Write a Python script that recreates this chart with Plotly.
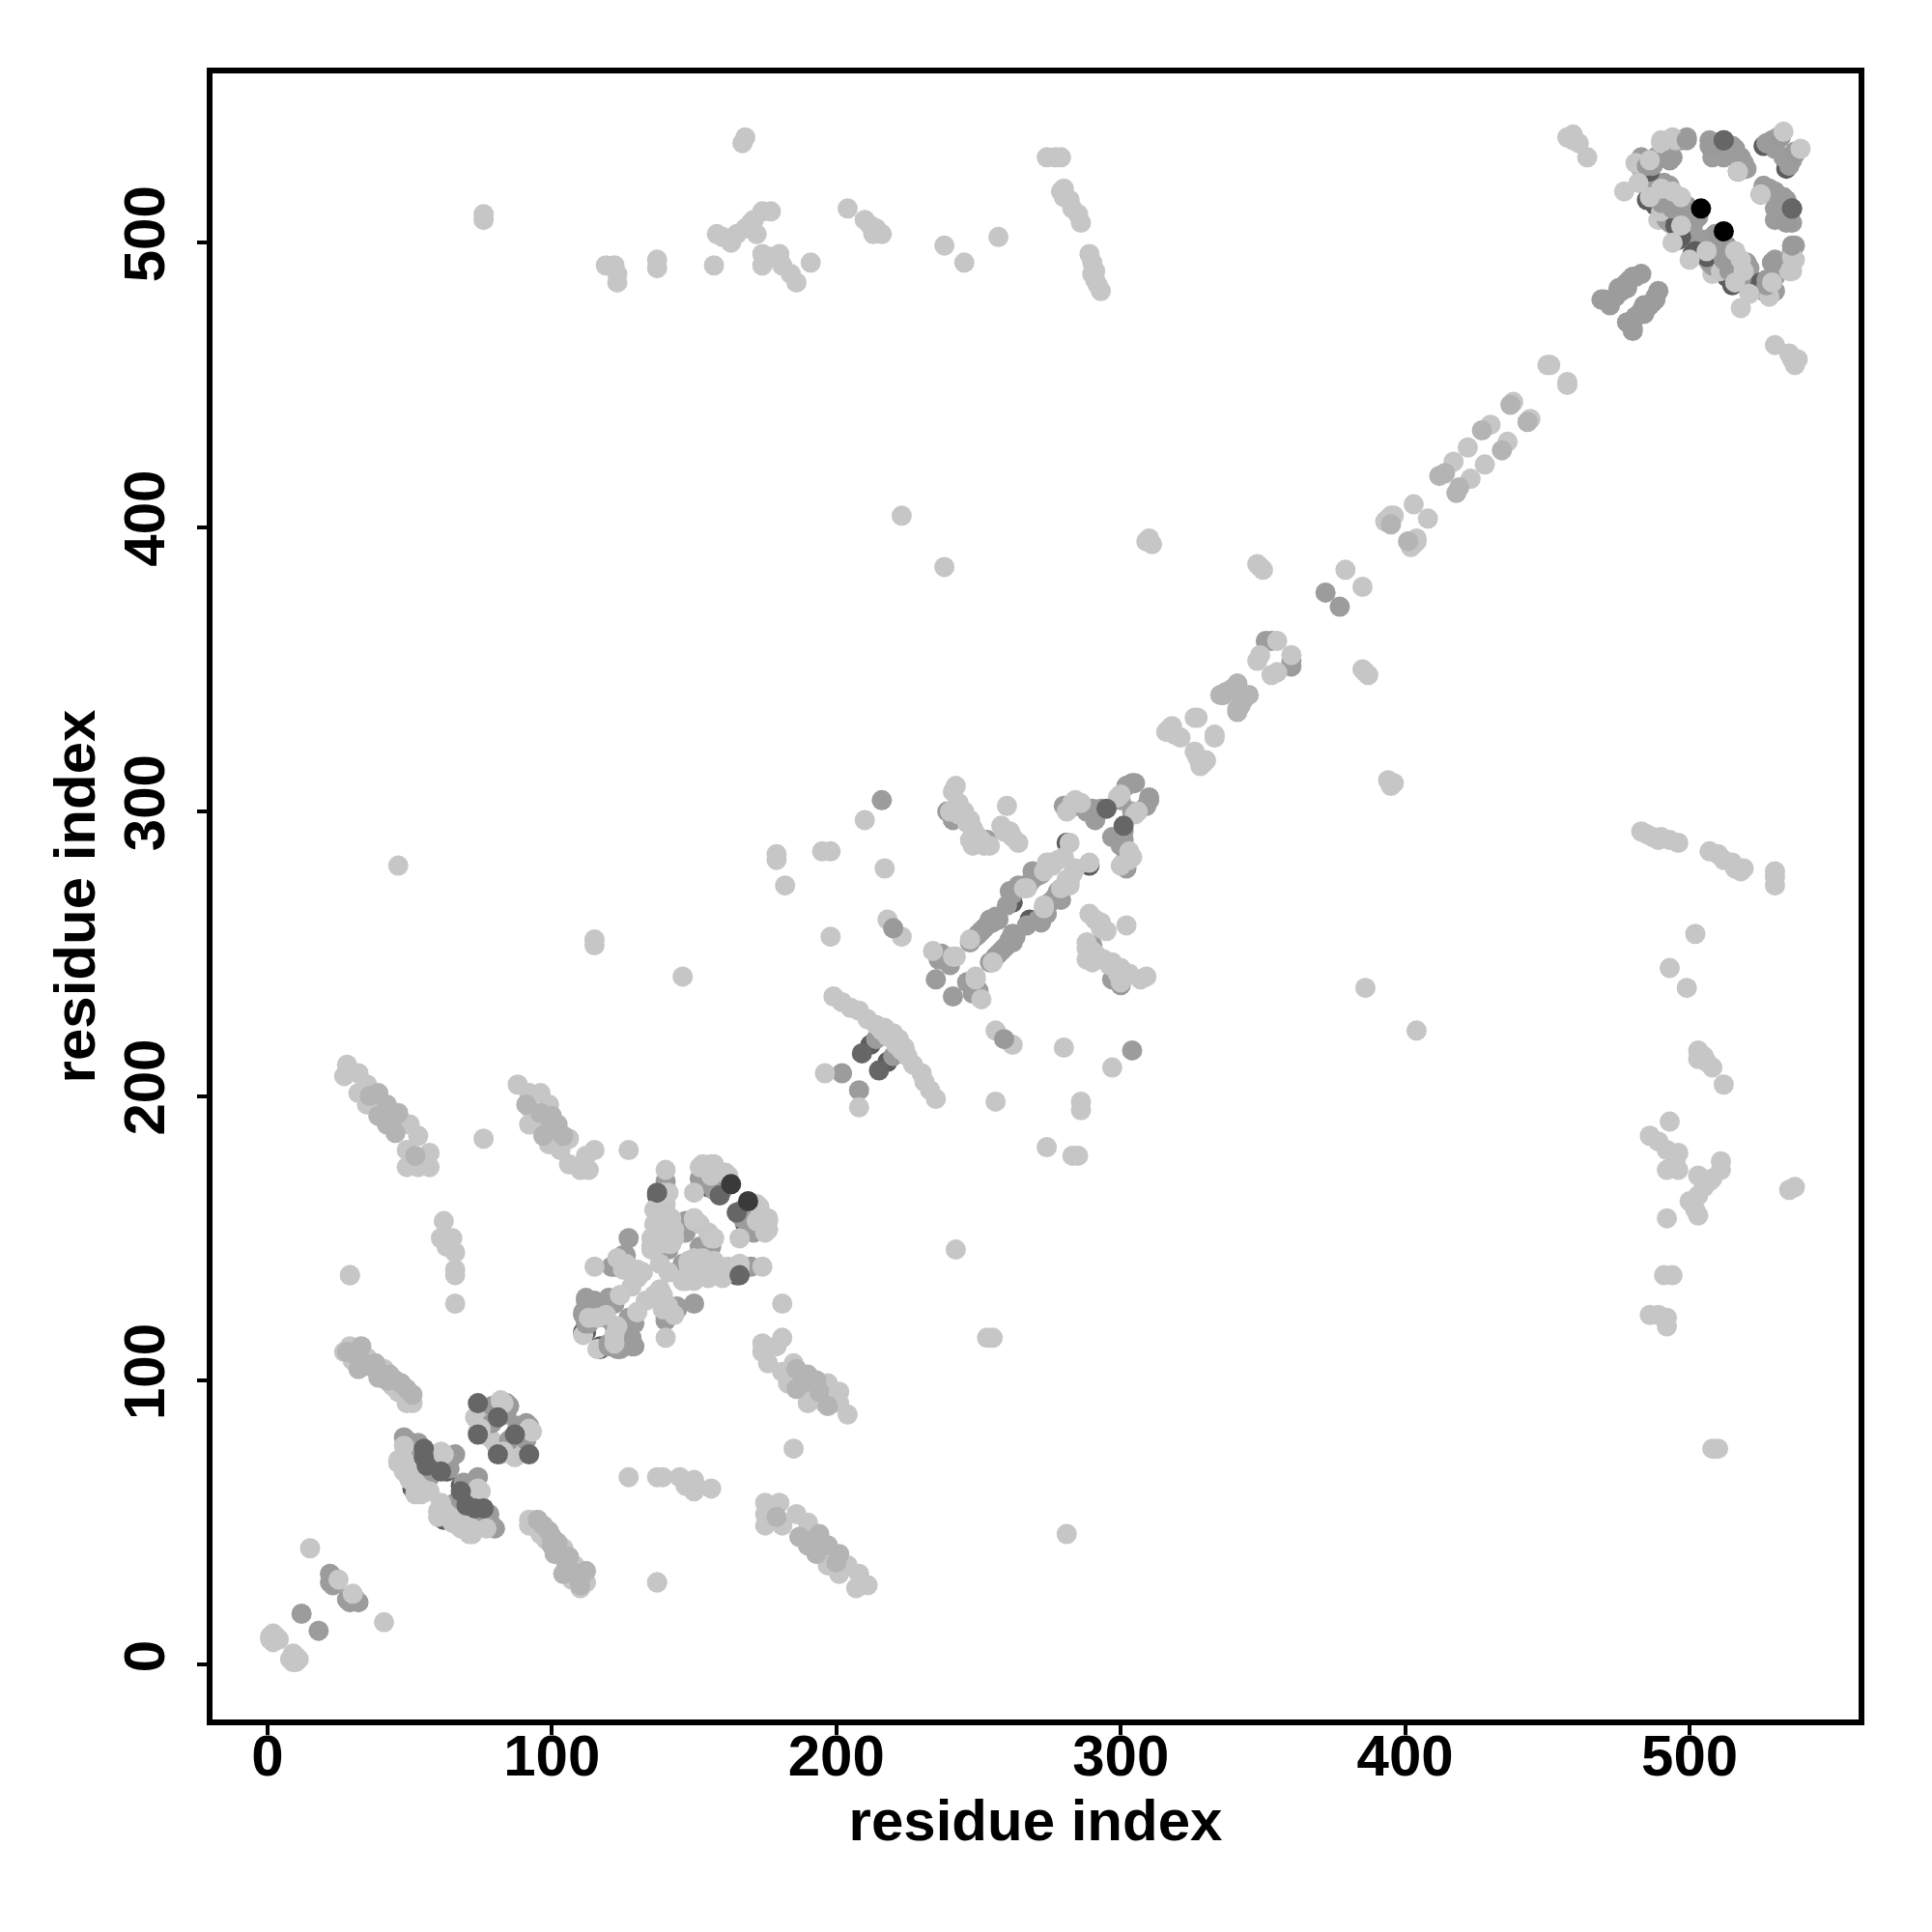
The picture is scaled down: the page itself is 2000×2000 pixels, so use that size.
import plotly.graph_objects as go

tick_values = [0, 100, 200, 300, 400, 500]
axis_label = "residue index"

# contacts (i, j), i < j; the map is symmetric. Grouped by grey level and stacking layer.
darkest_under = [
    (53,62),(52,72),(51,62),(52,61),(53,72),(76,87),(111,117),(112,117),(155,168),(137,165),
    (57,67),(63,68),(212,218),(262,268),(281,289),(526,534),(528,535),(517,525),(488,513),
]
light_under = [
    (491,515),(494,513),(489,508),(491,510),(495,505),(490,518),(487,515),(492,516),(111,116),(112,125),
]
gray = [
    (22,32),(23,31),(22,29),(23,28),(24,29),(12,18),
    (48,80),(51,77),(53,75),(57,66),(49,79),(53,78),(59,70),
    (78,88),(81,90),(78,90),(82,89),
    (127,150),(121,140),(125,144),(123,141),(112,129),(120,129),(118,124),(112,120),(115,128),(113,120),
    (112,128),(120,128),(126,144),(122,140),(111,124),(119,122),(117,124),(122,127),(111,123),
    (140,170),(147,156),(147,153),(138,144),(141,146),(152,171),(157,168),(160,167),(147,152),(153,171),(157,170),(167,157),
    (202,208),(214,220),(237,250),(240,246),(235,241),(236,248),
    (247,254),(249,256),(251,258),(253,260),(255,261),(257,262),(250,257),(252,259),(254,262),(256,263),
    (260,267),(264,274),(262,271),(268,275),(270,277),(272,278),(261,272),(269,279),
    (290,301),(291,297),(302,309),(305,310),(304,310),(280,302),(282,301),(288,300),(293,301),
    (253,290),(239,300),(241,297),(300,304),(216,304),
    (351,360),(353,360),(372,377),
    (470,480),(472,478),(476,483),(477,485),(478,486),(480,488),(483,489),(479,487),(478,484),
    (481,488),(469,480),(472,479),(474,481),(475,484),
    (499,537),(497,536),(507,536),(515,534),(518,530),(520,526),(519,528),(516,533),(493,529),
    (488,530),(483,530),(485,522),(493,519),(493,507),(502,508),(494,514),(496,511),
    (501,505),(497,507),(485,520),(486,524),(500,503),(527,535),(529,536),(531,537),
    (530,533),(491,521),(508,530),(512,530),
    (493,520),(486,520),(483,526),(494,530),(492,508),(498,504),(497,510),(495,514),(501,506),
]
dark_mid = [(486,526),(485,515),(489,513),(493,517),(493,511),(495,506),(496,501),(486,525),(497,502)]
light = [
    (1,9),(1,10),(2,8),(3,10),(4,9),(2,11),(15,41),
    (46,72),(48,77),(48,72),(49,67),(51,69),(52,64),(55,62),(53,67),(46,71),(52,60),(57,61),(54,60),(50,65),(48,68),
    (73,87),(76,82),(78,80),(75,88),(74,82),
    (29,112),(30,107),(32,108),(35,108),(38,104),(41,104),(44,98),(46,96),(48,95),(50,93),(51,92),(49,92),(27,110),(33,106),
    (28,211),(27,207),(32,208),(35,204),(32,201),(35,197),(50,190),(53,186),(49,181),(57,180),(49,175),(53,175),(57,175),(55,176),
    (88,204),(92,201),(96,201),(99,197),(92,196),(92,190),(96,190),(106,185),(99,183),(103,181),(115,181),(106,176),(110,174),(113,174),(112,179),
    (124,130),(116,122),(119,123),(113,122),(115,140),(127,140),(130,139),(130,137),(132,138),(131,138),(130,136),(123,143),(125,139),(126,141),(128,133),
    (140,174),(137,159),(140,159),(142,157),(136,155),(139,155),(141,152),(137,151),(138,148),(143,150),(141,148),
    (135,150),(143,153),(137,157),(140,162),(135,146),(138,141),(147,135),(150,137),(153,138),(156,137),(158,140),(160,136),(148,142),(152,141),
    (150,157),(150,166),(153,176),(157,176),(161,173),(156,172),(162,172),(156,176),(152,175),(150,156),(155,152),
    (29,137),(46,281),(76,510),(76,508),(76,185),(66,127),(66,137),(66,139),(66,145),(65,150),(61,150),(63,147),(62,156),
    (115,255),(115,253),(146,242),(127,181),(137,29),(168,537),(167,535),
    (274,530),(277,530),(279,530),(279,518),(280,516),(282,515),(283,512),(285,510),(286,507),(280,519),
    (289,496),(290,493),(291,490),(291,487),(292,485),(293,483),(290,489),
    (257,502),(238,499),(245,493),(204,512),(210,508),(212,506),(214,505),(213,503),(216,503),
    (157,492),(158,503),(160,502),(163,500),(165,503),(168,505),(170,507),(172,503),(174,511),(177,511),(171,508),
    (174,496),(174,492),(177,495),(180,496),(181,492),(184,489),(186,486),(191,493),
    (119,492),(122,492),(123,489),(123,486),(137,494),(137,491),
    (223,404),(238,386),(310,396),(311,394),(309,395),(179,285),(179,283),(182,274),(195,286),(198,286),
    (210,297),(217,280),(198,256),(218,262),(223,256),(196,208),
    (199,235),(202,233),(205,231),(208,230),(211,227),(214,225),(217,224),(218,221),(216,223),(220,222),
    (234,251),(241,249),(247,255),(242,249),
    (266,273),(274,282),(276,281),(278,283),(273,279),(280,284),(267,273),(275,282),(282,289),
    (284,304),(281,300),(283,303),(286,303),(299,305),(300,306),
    (242,309),(241,307),(240,300),(243,299),(245,300),(247,297),(248,294),(250,291),(252,288),(254,288),
    (246,296),(249,292),(251,290),(260,302),(258,295),(261,293),(262,291),(264,289),(259,293),(242,301),(243,303),(248,288),(247,290),
    (317,329),(316,328),(318,330),(319,327),(321,326),(327,333),(326,333),(318,329),
    (349,386),(350,385),(348,387),(348,353),(355,360),(349,355),(379,385),
    (394,403),(396,404),(393,402),(403,408),(395,404),(417,423),(422,428),(430,436),(438,444),(450,457),(451,457),
    (459,536),(457,537),(461,535),(464,530),(458,537),(459,538),
    (490,536),(494,537),(495,536),(490,535),(481,528),(490,511),
]
mid = [
    (28,110),(31,109),(33,112),(34,106),(36,105),(38,106),(40,102),(42,100),(43,102),(45,100),
    (47,99),(49,97),(51,95),(32,104),(39,101),
    (39,201),(42,197),(39,193),(46,194),(42,190),(45,187),(52,179),(44,192),(36,200),
    (91,197),(96,194),(102,190),(100,193),(99,188),(104,186),(97,186),
    (337,342),(339,343),(341,345),(336,341),(335,341),(412,418),(414,419),(427,434),(437,443),(395,401),
]
gray_top = [(220,259),(66,74),(64,72),(84,92),(79,91),(84,88),(85,91),(79,85),(499,513),(503,509),
            (487,527),(490,514),(494,512),(485,527),(532,537),(536,499),(529,493),(507,534),(58,68),(64,69)]
light_top = [(25,30),(61,75),(62,74),(83,92),(82,93),(75,83),(141,166),(139,166),(150,157),(124,130),
             (477,518),(486,529),(482,521),(490,519),(497,516),(494,500),(497,506),(533,539),(517,525),(486,516),(494,518)]
dark_top = [(209,215),(295,301),(159,165),(137,166),(74,92),(74,81),(81,87),(55,76),(55,73),(56,70),(61,68),
            (512,536),(536,512)]
darkest_top = [(163,169)]
black = [(504,512)]

groups = [
    (darkest_under, "#5c5c5c"), (light_under, "#c8c8c8"), (gray, "#9c9c9c"), (dark_mid, "#5c5c5c"),
    (light, "#c6c6c6"), (mid, "#b4b4b4"), (gray_top, "#9a9a9a"), (light_top, "#c8c8c8"),
    (dark_top, "#666666"), (darkest_top, "#3a3a3a"), (black, "#000000"),
]

fig = go.Figure()
for pts, col in groups:
    xs = [p[0] for p in pts] + [p[1] for p in pts]
    ys = [p[1] for p in pts] + [p[0] for p in pts]
    fig.add_trace(go.Scatter(x=xs, y=ys, mode="markers",
                             marker=dict(size=21, color=col, line=dict(width=0)),
                             showlegend=False, hoverinfo="skip"))

font = dict(family="Liberation Sans", size=60, color="black", weight="bold")
ax = dict(tickmode="array", tickvals=tick_values, ticktext=[str(v) for v in tick_values],
          ticks="outside", ticklen=10, tickwidth=4, tickcolor="black",
          showline=True, linewidth=6, linecolor="black", mirror=True,
          showgrid=False, zeroline=False, tickfont=font)

fig.update_layout(
    width=2000, height=2000, paper_bgcolor="white", plot_bgcolor="white",
    margin=dict(l=212, r=84, t=68, b=228, autoexpand=False),
    xaxis=dict(ax, range=[-19.3, 559.4], ticklabelstandoff=-30,
               title=dict(text=axis_label, font=font, standoff=11)),
    yaxis=dict(ax, range=[-19.2, 559.5], tickangle=-90, ticklabelstandoff=10,
               title=dict(text=axis_label, font=font, standoff=0)),
)
fig.write_html("out.html")
